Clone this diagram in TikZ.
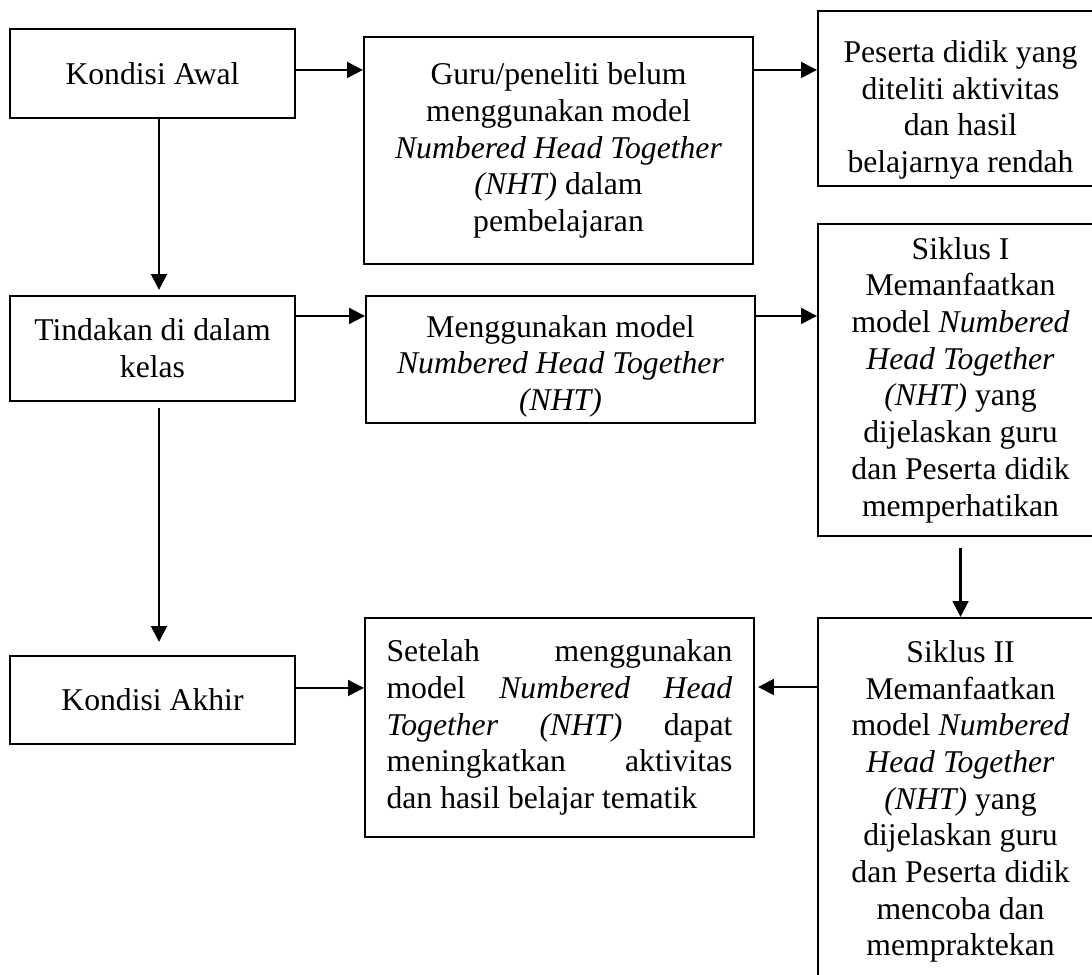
\documentclass[tikz,border=0pt]{standalone}
\usepackage{fontspec}
\setmainfont{Liberation Serif}
\usepackage{tikz}
\usetikzlibrary{arrows.meta,calc}
\newcommand{\px}{0.3788pt}

\begin{document}
\begin{tikzpicture}[x=0.3788pt, y=-0.3788pt,
  every node/.style={font=\fontsize{12pt}{13.9pt}\selectfont},
  box/.style={draw, line width=0.8pt, align=center, inner sep=2pt},
  arr/.style={line width=0.8pt, -{Triangle[length=6pt,width=6pt]}}]
  \useasboundingbox (0,0) rectangle (1092,974);
  \clip (0,0) rectangle (1092,974);
  % Left column
  \node[box, minimum width=285*\px, minimum height=89*\px] (awal) at (152.5,73.5) {Kondisi Awal};
  \node[box, minimum width=285*\px, minimum height=105*\px] (tindakan) at (152.5,348.5) {Tindakan di dalam\\kelas};
  \node[box, minimum width=285*\px, minimum height=88*\px] (akhir) at (152.5,700) {Kondisi Akhir};
  % Middle column
  \node[box, minimum width=389*\px, minimum height=227*\px] (guru) at (558.5,150.5)
    {Guru/peneliti belum\\menggunakan model\\\textit{Numbered Head Together}\\\textit{(NHT)} dalam\\pembelajaran};
  \node[box, minimum width=389*\px, minimum height=127*\px] (pakai) at (560.5,359.5)
    {\rule{0pt}{13.5pt}Menggunakan model\\\textit{Numbered Head Together}\\\textit{(NHT)}};
  \node[box, minimum width=389*\px, minimum height=219*\px, text width=131pt, align=justify] (setelah) at (559.5,727.5)
    {\tolerance=10000 Setelah menggunakan\linebreak model \textit{Numbered Head}\linebreak \textit{Together (NHT)} dapat\linebreak meningkatkan aktivitas\linebreak dan hasil belajar tematik};
  % Right column
  \node[box, minimum width=285*\px, minimum height=175*\px] (peserta) at (960.5,98.5)
    {\rule{0pt}{17pt}Peserta didik yang\\diteliti aktivitas\\dan hasil\\belajarnya rendah};
  \node[box, minimum width=285*\px, minimum height=312*\px] (siklus1) at (960.5,380)
    {Siklus I\\Memanfaatkan\\model \textit{Numbered}\\\textit{Head Together}\\\textit{(NHT)} yang\\dijelaskan guru\\dan Peserta didik\\memperhatikan};
  \node[box, minimum width=285*\px, minimum height=367*\px] (siklus2) at (960.5,801.5)
    {Siklus II\\Memanfaatkan\\model \textit{Numbered}\\\textit{Head Together}\\\textit{(NHT)} yang\\dijelaskan guru\\dan Peserta didik\\mencoba dan\\mempraktekan};
  % Connectors
  \coordinate (r1) at ($(awal.north east)+(0,42)$);
  \coordinate (r2) at ($(tindakan.north east)+(0,21)$);
  \coordinate (r3) at ($(akhir.north east)+(0,33)$);
  \draw[arr] (r1) -- (r1 -| guru.west);
  \draw[arr] (r1 -| guru.east) -- (r1 -| peserta.west);
  \draw[arr] (r2) -- (r2 -| pakai.west);
  \draw[arr] (r2 -| pakai.east) -- (r2 -| siklus1.west);
  \draw[arr] (r3) -- (r3 -| setelah.west);
  \draw[arr] ($(awal.south)+(6.5,0)$) -- ($(tindakan.north)+(6.5,-5)$);
  \draw[arr] ($(tindakan.south)+(6.5,6)$) -- ($(akhir.north)+(6.5,-13)$);
  \draw[arr] ($(siklus1.south)+(0,11)$) -- (siklus2.north);
  \draw[arr] ($(siklus2.west)+(0,-114.5)$) -- ($(setelah.east)+(3,-40.5)$);
\end{tikzpicture}
\end{document}
